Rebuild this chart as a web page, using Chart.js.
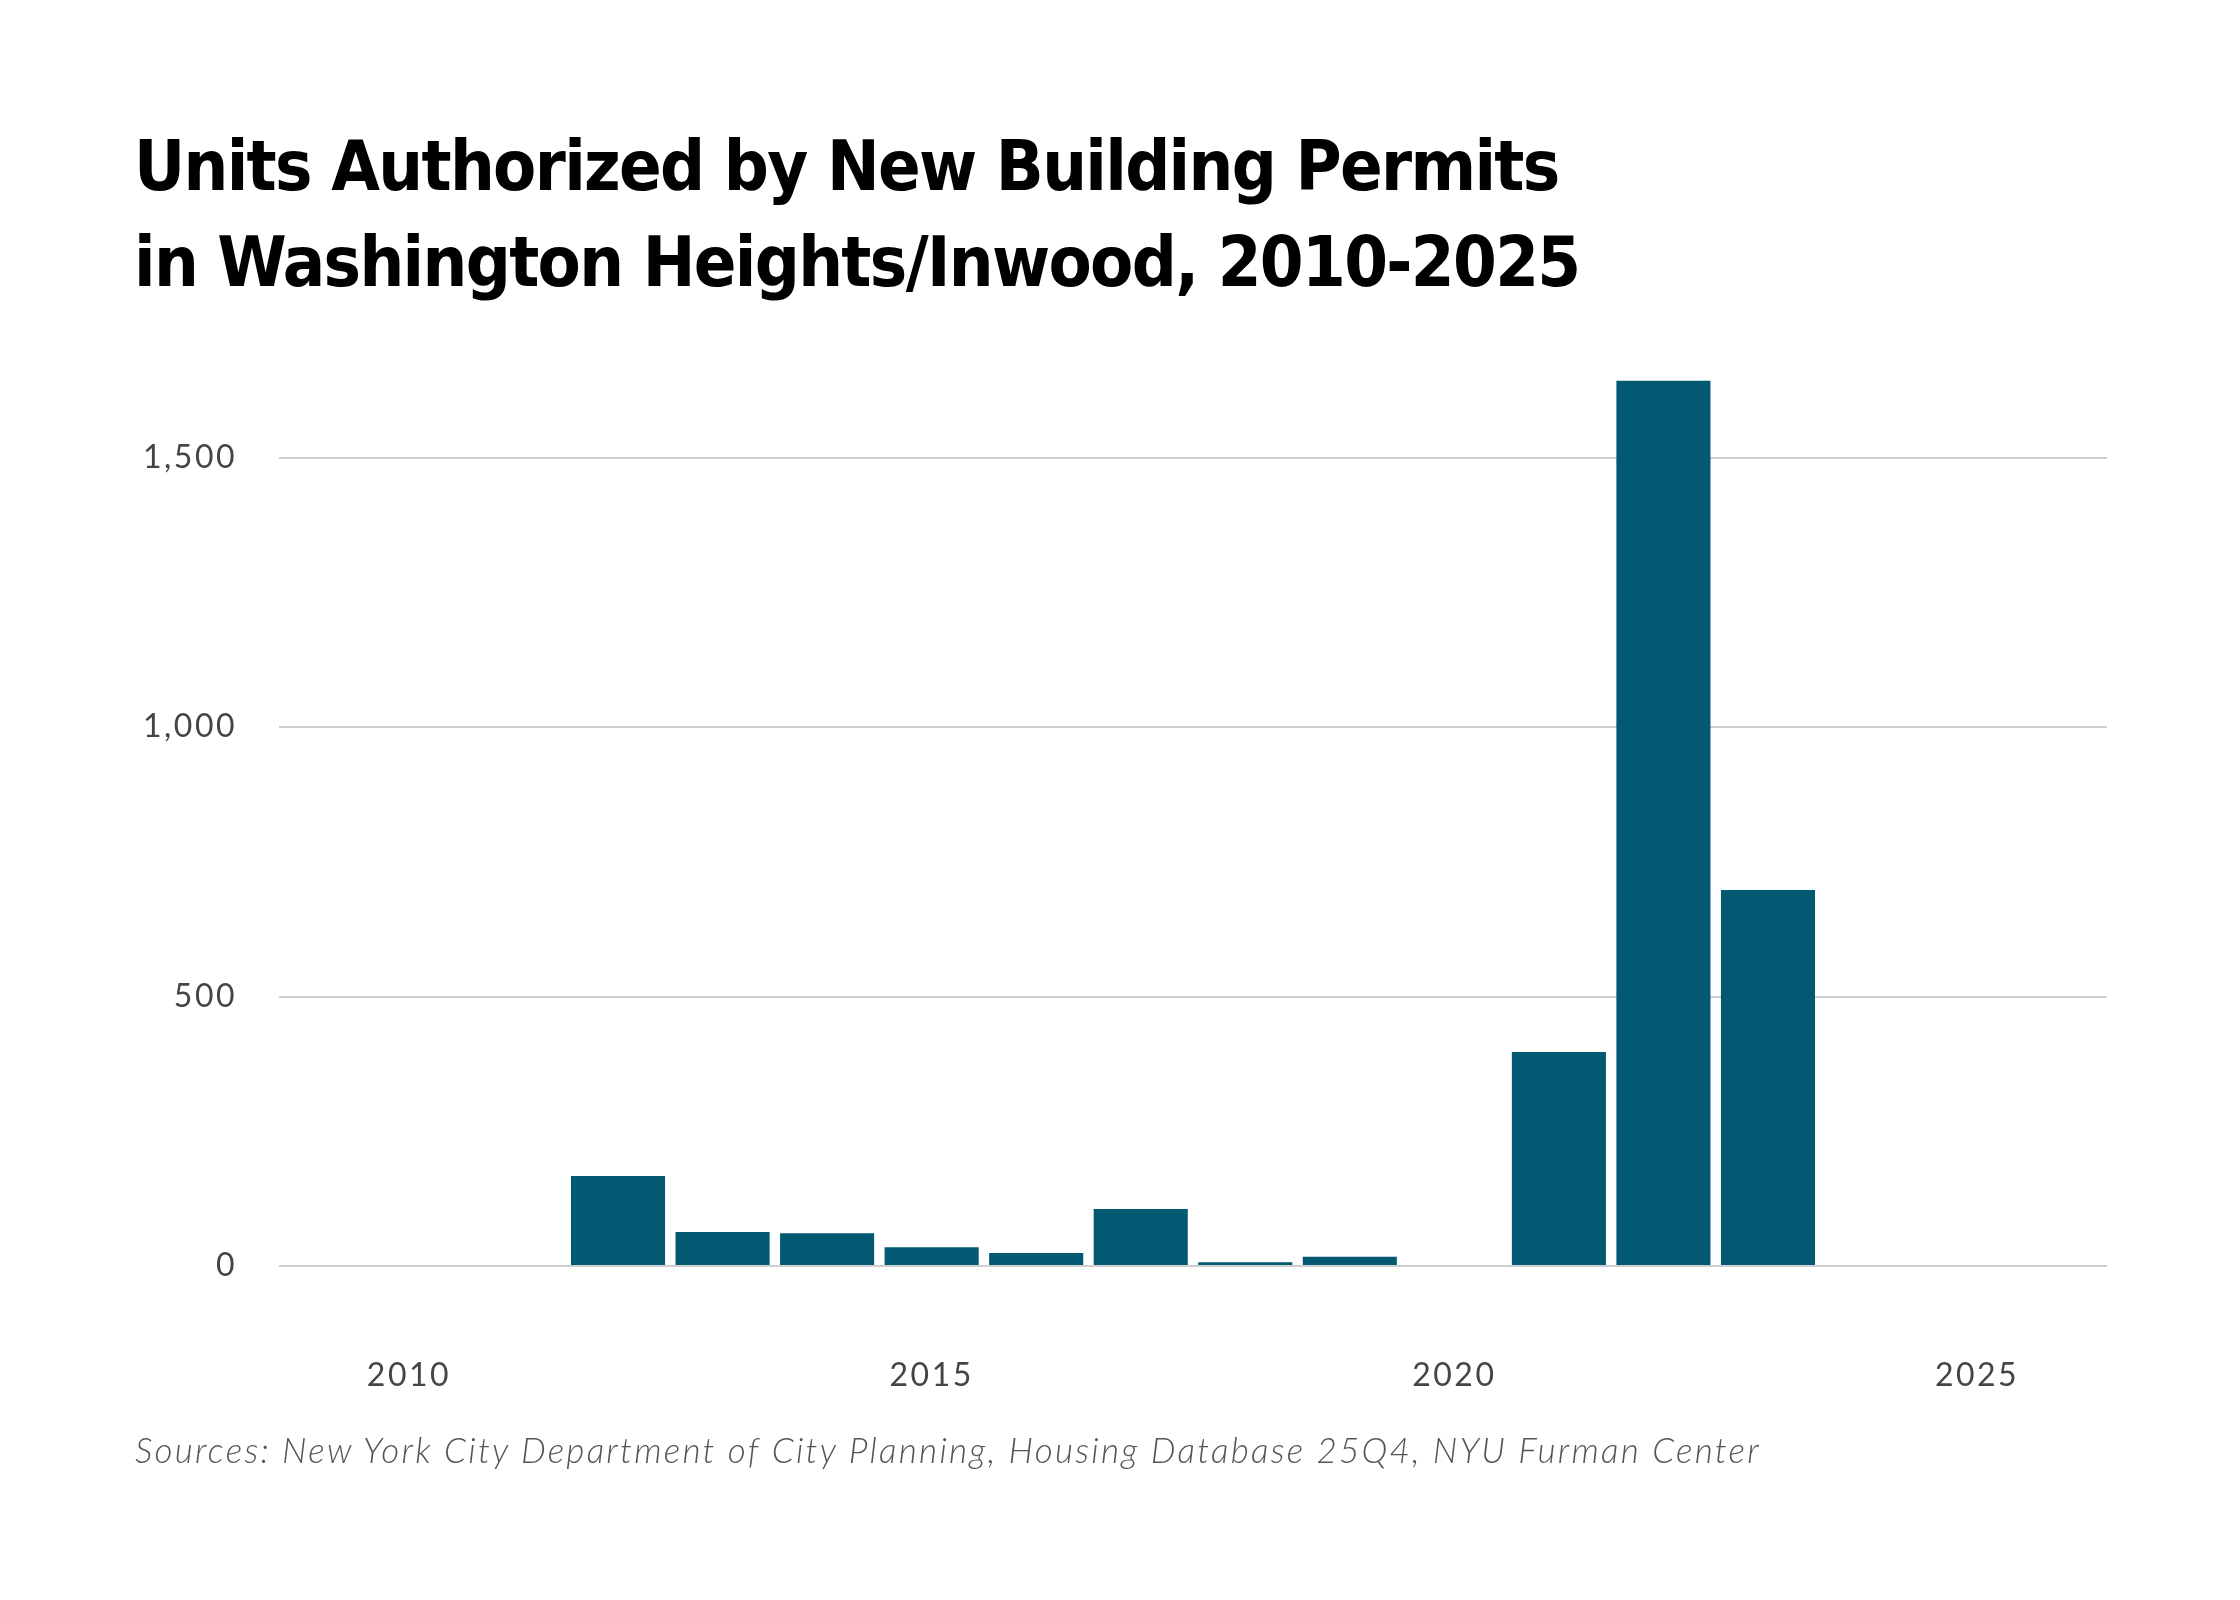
<!DOCTYPE html>
<html>
<head>
<meta charset="utf-8">
<script src="https://cdn.jsdelivr.net/npm/chart.js@4.4.1/dist/chart.umd.min.js"></script>
<style>
  html, body { margin: 0; padding: 0; background: #ffffff; }
  body { width: 2240px; height: 1600px; position: relative; overflow: hidden; }
  #title {
    position: absolute; left: 134px; top: 118px; margin: 0;
    font-family: "DejaVu Sans", sans-serif; font-stretch: condensed;
    font-weight: 700; font-size: 70px; line-height: 96px; letter-spacing: -1.65px; color: #000000;
    white-space: nowrap;
  }
  #source {
    position: absolute; left: 135px; top: 1429px; margin: 0;
    font-family: "Lato", "Open Sans", sans-serif; font-style: italic; font-weight: 300;
    font-size: 35px; line-height: 40px; letter-spacing: 2.25px; color: #555555; white-space: nowrap;
  }
  #wrap { position: absolute; left: 0; top: 0; width: 2240px; height: 1600px; }
</style>
</head>
<body>
<div id="wrap"><canvas id="c" width="2240" height="1600"></canvas></div>
<div id="title">Units Authorized by New Building Permits<br>in Washington Heights/Inwood, 2010-2025</div>
<div id="source">Sources: New York City Department of City Planning, Housing Database 25Q4, NYU Furman Center</div>
<script>
const years = [2010, 2011, 2012, 2013, 2014, 2015, 2016, 2017, 2018, 2019, 2020, 2021, 2022, 2023, 2024, 2025];
const units = [0, 0, 167, 63, 61, 35, 24, 106, 7, 17, 0, 397, 1643, 698, 0, 0];
const xTickYears = [2010, 2015, 2020, 2025];
const yTickValues = [0, 500, 1000, 1500];

const points = years.map((y, i) => ({ x: y, y: units[i] }));

const spacingPlugin = {
  id: 'tickSpacing',
  beforeDraw(chart) { chart.ctx.letterSpacing = '2.5px'; }
};

new Chart(document.getElementById('c'), {
  type: 'bar',
  data: {
    datasets: [{
      data: points,
      backgroundColor: '#035972',
      borderWidth: 0,
      barPercentage: 0.9,
      categoryPercentage: 1.0
    }]
  },
  plugins: [spacingPlugin],
  options: {
    responsive: false,
    devicePixelRatio: 1,
    animation: false,
    layout: { padding: { left: 0, right: 133, top: 350, bottom: 0 } },
    plugins: { legend: { display: false }, tooltip: { enabled: false }, title: { display: false } },
    scales: {
      x: {
        type: 'linear',
        offset: false,
        min: 2008.757,
        max: 2026.243,
        grid: { display: false, drawTicks: false, offset: false },
        border: { display: false },
        afterFit: (s) => { s.height = 334; },
        afterBuildTicks: (s) => { s.ticks = xTickYears.map(v => ({ value: v })); },
        ticks: {
          padding: 90,
          color: '#454545',
          font: { family: 'Lato, "Open Sans", sans-serif', size: 32 },
          callback: (v) => String(v)
        }
      },
      y: {
        min: 0,
        max: 1700,
        grid: { color: '#cfcfcf', lineWidth: 2, drawTicks: false },
        border: { display: false },
        afterFit: (s) => { s.width = 279; },
        afterBuildTicks: (s) => { s.ticks = yTickValues.map(v => ({ value: v })); },
        ticks: {
          padding: 42,
          color: '#454545',
          font: { family: 'Lato, "Open Sans", sans-serif', size: 32 },
          callback: (v) => Number(v).toLocaleString('en-US')
        }
      }
    }
  }
});
</script>
</body>
</html>
